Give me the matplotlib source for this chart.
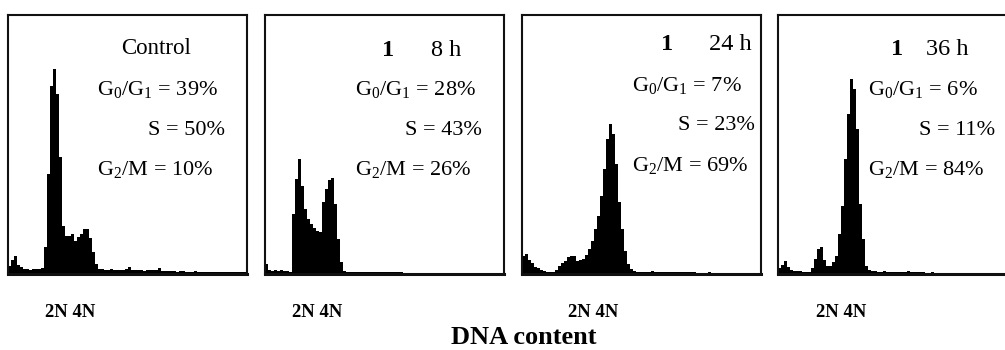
import numpy as np
import matplotlib
matplotlib.use("Agg")
import matplotlib.pyplot as plt

plt.rcParams['font.family'] = ['Liberation Serif', 'DejaVu Serif']
plt.rcParams['mathtext.fontset'] = 'custom'
plt.rcParams['mathtext.rm'] = 'Liberation Serif'
plt.rcParams['mathtext.it'] = 'Liberation Serif:italic'
plt.rcParams['mathtext.bf'] = 'Liberation Serif:bold'

# DNA histograms, counts per channel (80 channels per panel)
control_counts = [8, 14, 18, 9, 7, 5, 5, 4, 5, 5, 5, 6, 27, 100, 188, 205, 180, 117, 48, 38,
                  38, 40, 33, 37, 40, 45, 45, 36, 22, 10, 5, 5, 4, 4, 5, 4, 4, 4, 4, 5,
                  7, 4, 4, 4, 4, 3, 4, 4, 4, 4, 6, 3, 3, 3, 3, 3, 2, 3, 3, 2,
                  2, 2, 3, 2, 2, 2, 2, 2, 2, 2, 2, 2, 2, 2, 2, 2, 2, 2, 2, 2]
h8_counts = [10, 4, 3, 4, 3, 4, 3, 3, 2, 60, 95, 115, 88, 65, 55, 50, 46, 43, 42, 72,
             85, 94, 96, 70, 35, 12, 3, 2, 2, 2, 2, 2, 2, 2, 2, 2, 2, 2, 2, 2,
             2, 2, 2, 2, 2, 2, 1, 1, 1, 1, 1, 1, 1, 1, 1, 1, 1, 1, 1, 1,
             1, 1, 1, 1, 1, 1, 1, 1, 1, 1, 1, 1, 1, 1, 1, 1, 1, 1, 1, 1]
h24_counts = [18, 20, 14, 11, 7, 6, 4, 3, 2, 2, 2, 4, 8, 11, 13, 17, 18, 18, 13, 14,
              15, 19, 25, 33, 45, 58, 78, 105, 135, 150, 140, 110, 72, 45, 23, 10, 5, 3, 2, 2,
              2, 2, 2, 3, 2, 2, 2, 2, 2, 2, 2, 2, 2, 2, 2, 2, 2, 2, 1, 1,
              1, 1, 2, 1, 1, 1, 1, 1, 1, 1, 1, 1, 1, 1, 1, 1, 1, 1, 1, 1]
h36_counts = [6, 9, 13, 7, 4, 3, 3, 3, 2, 2, 2, 6, 15, 25, 27, 14, 8, 8, 12, 18,
              40, 68, 115, 160, 195, 185, 145, 70, 35, 8, 4, 3, 3, 2, 2, 3, 2, 2, 2, 2,
              2, 2, 2, 3, 2, 2, 2, 2, 2, 1, 1, 2, 1, 1, 1, 1, 1, 1, 1, 1,
              1, 1, 1, 1, 1, 1, 1, 1, 1, 1, 1, 1, 1, 1, 1, 1, 1, 1, 1, 1]

compounds = ["", "1", "1", "1"]
times = ["Control", "8 h", "24 h", "36 h"]
g0g1 = [39, 28, 7, 6]
s_phase = [50, 43, 23, 11]
g2m = [10, 26, 69, 84]
all_counts = [control_counts, h8_counts, h24_counts, h36_counts]

W, H = 1005, 350
fig = plt.figure(figsize=(W / 100, H / 100), dpi=100)

box_left = [8, 265, 522, 778]
box_top, box_bot, box_w = 15, 274, 239
# text layout per panel, in axes fractions
layouts = [
    dict(lx=0.372, rx=0.908, ty=0.848, rows=(0.691, 0.537, 0.382), cx=0.62),
    dict(lx=0.377, rx=0.908, ty=0.842, rows=(0.691, 0.537, 0.382), nx=0.515, tx=0.757),
    dict(lx=0.462, rx=0.975, ty=0.865, rows=(0.708, 0.556, 0.399), nx=0.607, tx=0.870),
    dict(lx=0.377, rx=0.908, ty=0.846, rows=(0.691, 0.537, 0.382), nx=0.498, tx=0.707),
]
label_x = [45, 292, 568, 816]

for i in range(4):
    ax = fig.add_axes([box_left[i] / W, (H - box_bot) / H, box_w / W, (box_bot - box_top) / H])
    counts = np.array(all_counts[i])
    edges = np.arange(len(counts) + 1)
    ax.stairs(counts, edges, fill=True, color='black', baseline=0)
    ax.set_xlim(0, 79.7)
    ax.set_ylim(0, box_bot - box_top)
    ax.set_xticks([])
    ax.set_yticks([])
    for sp in ax.spines.values():
        sp.set_linewidth(1.5)
        sp.set_color('#111111')
    ax.spines['bottom'].set_linewidth(2.2)

    L = layouts[i]
    if i == 0:
        ax.text(L['cx'], L['ty'], times[i], transform=ax.transAxes, ha='center',
                va='baseline', fontsize=16.5)
    else:
        ax.text(L['nx'], L['ty'], compounds[i], transform=ax.transAxes, ha='center',
                va='baseline', fontsize=17.5, fontweight='bold')
        ax.text(L['tx'], L['ty'], times[i], transform=ax.transAxes, ha='center',
                va='baseline', fontsize=17.5)
    ax.text(L['lx'], L['rows'][0], r'G$_0$/G$_1$ = %d%%' % g0g1[i], transform=ax.transAxes,
            ha='left', va='baseline', fontsize=16)
    ax.text(L['rx'], L['rows'][1], 'S = %d%%' % s_phase[i], transform=ax.transAxes,
            ha='right', va='baseline', fontsize=16)
    ax.text(L['lx'], L['rows'][2], r'G$_2$/M = %d%%' % g2m[i], transform=ax.transAxes,
            ha='left', va='baseline', fontsize=16)

    fig.text(label_x[i] / W, (H - 316.7) / H, '2N 4N', ha='left', va='baseline',
             fontsize=13.5, fontweight='bold')

fig.text(523.5 / W, 5.5 / H, 'DNA content', ha='center', va='baseline',
         fontsize=19, fontweight='bold')

fig.savefig('out.png', dpi=100)
